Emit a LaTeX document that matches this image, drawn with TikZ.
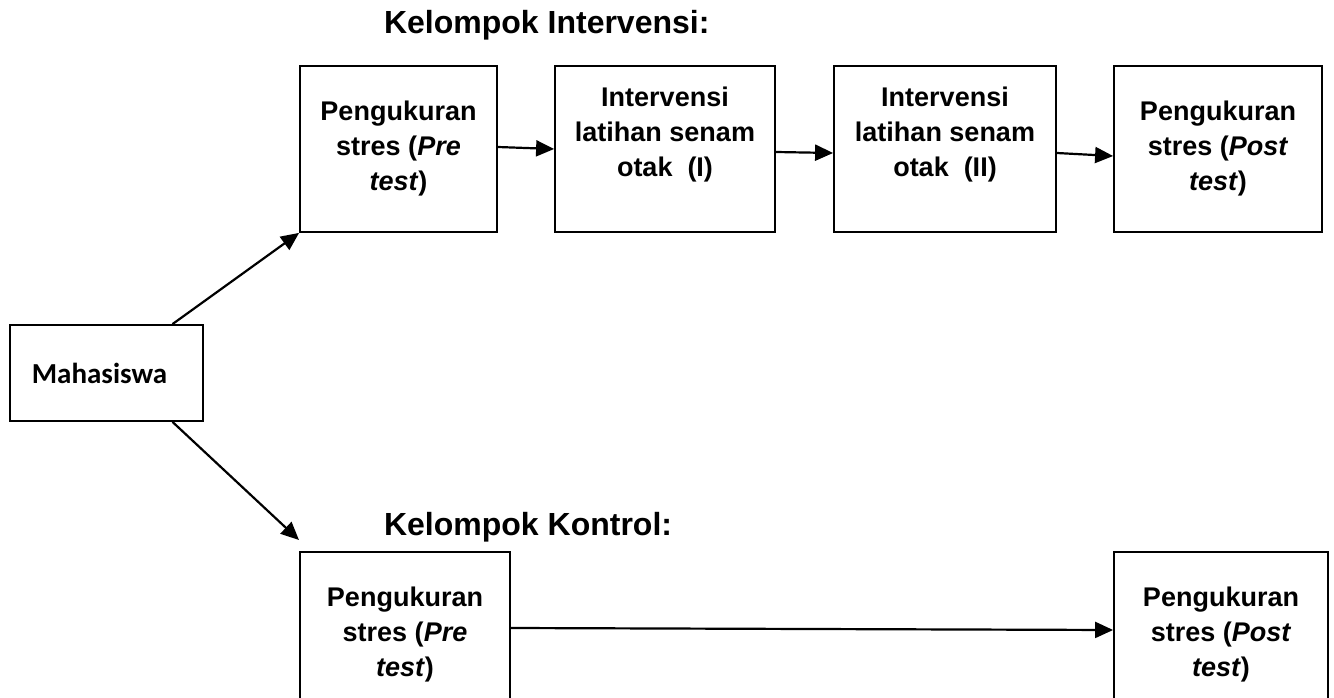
\documentclass[tikz,border=0pt]{standalone}
\usepackage{fontspec}
\setmainfont{Liberation Sans}
\newfontfamily\calibri{Carlito}
\usetikzlibrary{arrows.meta,positioning}
\tikzset{
    -{Triangle[length=18pt,width=16pt]},x=1pt,y=-1pt,
    box/.style ={rectangle, draw, line width=1.8pt, minimum height=166pt, inner sep=0pt, align=center, font=\fontsize{27}{35}\selectfont\bfseries},
    title/.style = {anchor=base west, inner sep=0pt, font=\fontsize{32}{36}\selectfont\bfseries}
}
\begin{document}
\begin{tikzpicture}[line width=2.2pt]
    \useasboundingbox (0,0) rectangle (1334,698);
    \clip (0,0) rectangle (1334,698);
 	\node[title] (t1) at (383,34) {Kelompok Intervensi:};
 	\node[title] (t2) at (383,535) {Kelompok Kontrol:};

    \node[box, minimum width=193pt, minimum height=96pt, font=\fontsize{29}{34}\selectfont\calibri\bfseries] (0) at (106.5,373) {Mahasiswa\hspace{14pt}};
    \node[box, minimum width=197pt] (1) at (398.5,149) {Pengukuran\\stres (\textit{Pre}\\\textit{test})};
    \node[box, minimum width=220pt] (2) at (665,149) {Intervensi\\latihan senam\\otak\ \ (I)\\\mbox{}};
    \node[box, minimum width=222pt] (3) at (945,149) {Intervensi\\latihan senam\\otak\ \ (II)\\\mbox{}};
    \node[box, minimum width=208pt] (4) at (1218,149) {Pengukuran\\stres (\textit{Post}\\\textit{test})};
    \node[box, minimum width=210pt] (5) at (405,635) {Pengukuran\\stres (\textit{Pre}\\\textit{test})};
    \node[box, minimum width=214pt] (6) at (1221,635) {Pengukuran\\stres (\textit{Post}\\\textit{test})};
    \coordinate (7) at (299,540);

	\path ([xshift=66pt]0.north) edge (1.south west);
	\path ([xshift=66pt]0.south) edge (7);
	\path ([yshift=2pt]1.east) edge (2.west);
	\path ([yshift=-3pt]2.east) edge ([yshift=-4pt]3.west);
	\path ([yshift=-4pt]3.east) edge ([yshift=-7pt]4.west);
	\path ([yshift=7pt]5.east) edge ([yshift=5pt]6.west);

\end{tikzpicture}
\end{document}
